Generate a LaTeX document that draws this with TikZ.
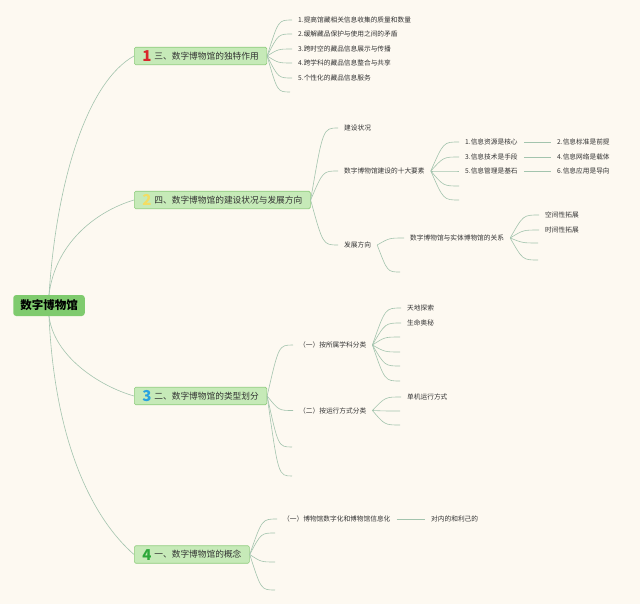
\documentclass[tikz,border=0pt]{standalone}
\usepackage{fontspec}
\setmainfont{Noto Sans CJK SC}
\usetikzlibrary{calc}
\definecolor{bg}{HTML}{FDF9F1}
\definecolor{rootc}{HTML}{7FCB6E}
\definecolor{brfill}{HTML}{C6EAB8}
\definecolor{brdraw}{HTML}{8FCC7E}
\definecolor{linkc}{HTML}{A3C4AE}
\definecolor{txt}{HTML}{333333}
\definecolor{mkred}{HTML}{D9262B}
\definecolor{mkyellow}{HTML}{F3DD63}
\definecolor{mkblue}{HTML}{2AA2DF}
\definecolor{mkgreen}{HTML}{2CA83A}
\newcommand\mk[2]{\raisebox{-2.6pt}[0pt][0pt]{\fontsize{15}{15}\selectfont\bfseries\color{#1}#2}\hspace{3pt}}
\newcommand\lk[2]{\draw[link] (#1) let \p1=(#1), \p2=(#2) in .. controls ({\x1+0.45*(\x2-\x1)},\y2) .. (#2);}
\begin{document}
\begin{tikzpicture}[x=1pt,y=-1pt,
  root/.style={fill=rootc, rounded corners=3pt, font=\fontsize{11.5}{13}\selectfont\bfseries, text=black, inner xsep=7pt, inner ysep=0pt, minimum height=21pt},
  branch/.style={fill=brfill, draw=brdraw, line width=0.6pt, rounded corners=1.5pt, font=\fontsize{8.7}{10}\selectfont, text=txt, inner xsep=8pt, inner ysep=0pt, minimum height=17.5pt, anchor=west},
  leaf/.style={font=\fontsize{6.7}{8}\selectfont, text=txt, inner xsep=6pt, inner ysep=1pt, anchor=west},
  link/.style={draw=linkc, line width=0.6pt}]
\fill[bg] (0,0) rectangle (640,604);
\useasboundingbox (0,0) rectangle (640,604);

% root and branches
\node[root] (root) at (49,305.5) {数字博物馆};
\node[branch] (b1) at (134,56) {\mk{mkred}{1}三、数字博物馆的独特作用};
\node[branch] (b2) at (134,200) {\mk{mkyellow}{2}四、数字博物馆的建设状况与发展方向};
\node[branch] (b3) at (134,396) {\mk{mkblue}{3}二、数字博物馆的类型划分};
\node[branch] (b4) at (134,554.5) {\mk{mkgreen}{4}一、数字博物馆的概念};

\draw[link] (root.north) .. controls +(8,-120) and +(-45,25) .. (b1.west);
\draw[link] (root.north) .. controls +(6,-50) and +(-40,12) .. (b2.west);
\draw[link] (root.south) .. controls +(5,40) and +(-35,-10) .. (b3.west);
\draw[link] (root.south) .. controls +(6,130) and +(-40,-35) .. (b4.west);

% branch 1
\node[leaf] (l11) at (292,20) {1.提高馆藏相关信息收集的质量和数量};
\node[leaf] (l12) at (292,34) {2.缓解藏品保护与使用之间的矛盾};
\node[leaf] (l13) at (292,49) {3.跨时空的藏品信息展示与传播};
\node[leaf] (l14) at (292,63) {4.跨学科的藏品信息整合与共享};
\node[leaf] (l15) at (292,78) {5.个性化的藏品信息服务};
\coordinate (e16) at (290,92);
\foreach \c in {l11.west,l12.west,l13.west,l14.west,l15.west,e16}{\lk{b1.east}{\c}}

% branch 2
\node[leaf] (l21) at (338,128) {建设状况};
\node[leaf] (l22) at (338,171) {数字博物馆建设的十大要素};
\node[leaf] (l23) at (338,245) {发展方向};
\foreach \c in {l21.west,l22.west,l23.west}{\lk{b2.east}{\c}}

\node[leaf] (a1) at (459,142) {1.信息资源是核心};
\node[leaf] (a3) at (459,157) {3.信息技术是手段};
\node[leaf] (a5) at (459,171) {5.信息管理是基石};
\coordinate (ea7) at (459,186);
\coordinate (ea9) at (459,200);
\foreach \c in {a1.west,a3.west,a5.west,ea7,ea9}{\lk{l22.east}{\c}}
\node[leaf] (a2) at (551,142) {2.信息标准是前提};
\node[leaf] (a4) at (551,157) {4.信息网络是载体};
\node[leaf] (a6) at (551,171) {6.信息应用是导向};
\draw[link] (a1.east) -- (a2.west);
\draw[link] (a3.east) -- (a4.west);
\draw[link] (a5.east) -- (a6.west);

\node[leaf] (r1) at (404,238) {数字博物馆与实体博物馆的关系};
\coordinate (er2) at (400,272);
\foreach \c in {r1.west,er2}{\lk{l23.east}{\c}}
\node[leaf] (s1) at (539,215) {空间性拓展};
\node[leaf] (s2) at (539,230) {时间性拓展};
\coordinate (es3) at (538,243);
\coordinate (es4) at (538,260);
\foreach \c in {s1.west,s2.west,es3,es4}{\lk{r1.east}{\c}}

% branch 3
\node[leaf] (t1) at (293,345) {（一）按所属学科分类};
\node[leaf] (t2) at (293,410.5) {（二）按运行方式分类};
\coordinate (et3) at (292,447);
\coordinate (et4) at (292,476);
\foreach \c in {t1.west,t2.west,et3,et4}{\lk{b3.east}{\c}}
\node[leaf] (u1) at (401,308) {天地探索};
\node[leaf] (u2) at (401,323) {生命奥秘};
\coordinate (eu3) at (400,337);
\coordinate (eu4) at (400,352);
\coordinate (eu5) at (400,366);
\coordinate (eu6) at (400,381);
\foreach \c in {u1.west,u2.west,eu3,eu4,eu5,eu6}{\lk{t1.east}{\c}}
\node[leaf] (v1) at (401,397) {单机运行方式};
\coordinate (ev2) at (400,411);
\coordinate (ev3) at (400,425);
\foreach \c in {v1.west,ev2,ev3}{\lk{t2.east}{\c}}

% branch 4
\node[leaf] (w1) at (277,519) {（一）博物馆数字化和博物馆信息化};
\coordinate (ew2) at (275,533);
\coordinate (ew3) at (275,562);
\coordinate (ew4) at (275,590);
\foreach \c in {w1.west,ew2,ew3,ew4}{\lk{b4.east}{\c}}
\node[leaf] (x1) at (425,519) {对内的和利己的};
\draw[link] (w1.east) -- (x1.west);
\end{tikzpicture}
\end{document}
